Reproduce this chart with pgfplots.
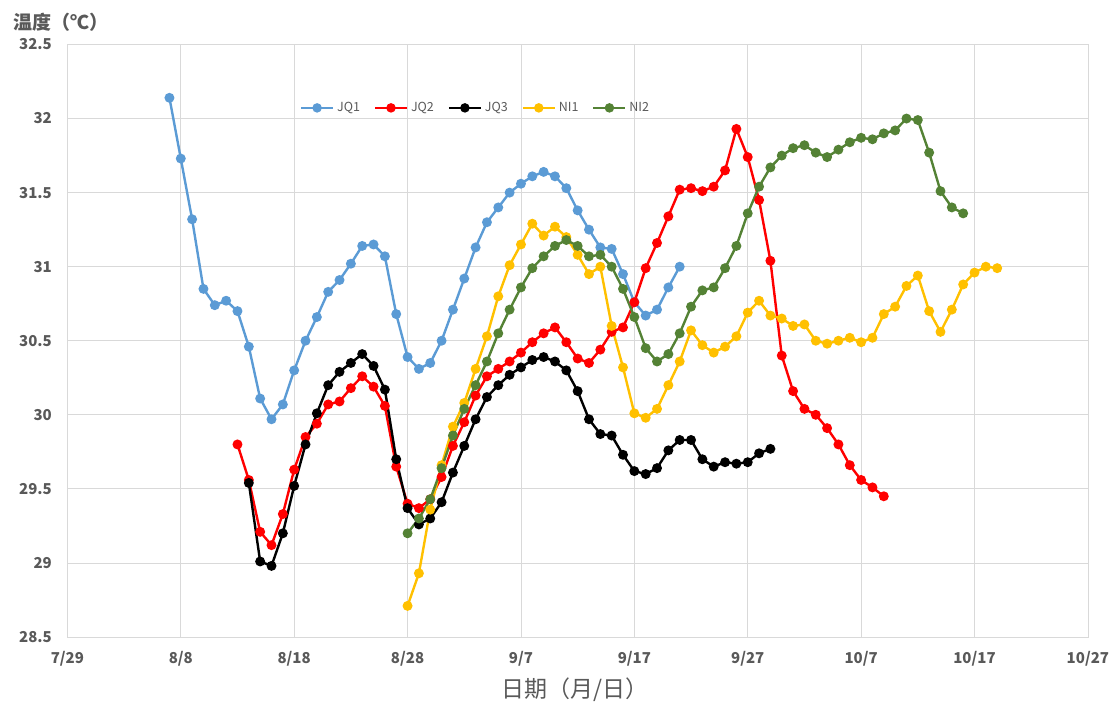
\documentclass[border=0pt]{standalone}
\usepackage{pgfplots}
\pgfplotsset{compat=1.18}
\usepackage{fontspec}
\setmainfont{Noto Sans CJK SC}
\newfontfamily\cjk{Noto Sans CJK SC}
\definecolor{cJQone}{HTML}{5B9BD5}
\definecolor{cJQtwo}{HTML}{FF0000}
\definecolor{cJQthree}{HTML}{000000}
\definecolor{cNIone}{HTML}{FFC000}
\definecolor{cNItwo}{HTML}{548235}
\definecolor{txtgray}{HTML}{595959}
\definecolor{gridgray}{HTML}{D9D9D9}
\begin{document}
\begin{tikzpicture}
\useasboundingbox (-67.4pt,-74pt) rectangle (1045.6pt,637pt);
\begin{axis}[
  scale only axis,
  width=1020.6pt, height=592.5pt,
  xmin=0, xmax=90, ymin=28.5, ymax=32.5,
  xtick={0,10,...,90},
  xticklabels={7/29,8/8,8/18,8/28,9/7,9/17,9/27,10/7,10/17,10/27},
  ytick={28.5,29,29.5,30,30.5,31,31.5,32,32.5},
  yticklabels={28.5,29,29.5,30,30.5,31,31.5,32,32.5},
  grid=major,
  major grid style={gridgray, line width=0.8pt},
  axis line style={gridgray, line width=0.8pt},
  tick style={draw=none},
  yticklabel shift=12pt,
  /pgf/number format/assume math mode=true,
  yticklabel style={font=\fontsize{15}{17}\selectfont\bfseries, text=txtgray},
  xticklabel style={font=\fontsize{15}{17}\selectfont\bfseries, text=txtgray, yshift=-11pt},
  legend style={at={(0.40,0.893)}, anchor=center, draw=none, fill=none,
    font=\fontsize{12.5}{14}\selectfont, text=txtgray,
    legend columns=-1, /tikz/every even column/.append style={column sep=12pt},
    /tikz/every odd column/.append style={column sep=1pt}},
  legend image code/.code={\draw[mark repeat=2,mark phase=2, line width=2pt] plot coordinates {(0pt,0pt) (16pt,0pt) (32pt,0pt)};},
  every axis plot/.append style={line width=2.4pt, mark=*, mark size=3.7pt, mark options={solid}},
]
\addplot[color=cJQone] coordinates {
(9,32.14)(10,31.73)(11,31.32)(12,30.85)(13,30.74)(14,30.77)(15,30.70)(16,30.46)(17,30.11)(18,29.97)
(19,30.07)(20,30.30)(21,30.50)(22,30.66)(23,30.83)(24,30.91)(25,31.02)(26,31.14)(27,31.15)(28,31.07)
(29,30.68)(30,30.39)(31,30.31)(32,30.35)(33,30.50)(34,30.71)(35,30.92)(36,31.13)(37,31.30)(38,31.40)
(39,31.50)(40,31.56)(41,31.61)(42,31.64)(43,31.61)(44,31.53)(45,31.38)(46,31.25)(47,31.13)(48,31.12)
(49,30.95)(50,30.76)(51,30.67)(52,30.71)(53,30.86)(54,31.00)};
\addlegendentry{JQ1}
\addplot[color=cJQtwo] coordinates {
(15,29.80)(16,29.56)(17,29.21)(18,29.12)(19,29.33)(20,29.63)(21,29.85)(22,29.94)(23,30.07)(24,30.09)
(25,30.18)(26,30.26)(27,30.19)(28,30.06)(29,29.65)(30,29.40)(31,29.37)(32,29.43)(33,29.58)(34,29.79)
(35,29.95)(36,30.13)(37,30.26)(38,30.31)(39,30.36)(40,30.42)(41,30.49)(42,30.55)(43,30.59)(44,30.49)
(45,30.38)(46,30.35)(47,30.44)(48,30.56)(49,30.59)(50,30.76)(51,30.99)(52,31.16)(53,31.34)(54,31.52)
(55,31.53)(56,31.51)(57,31.54)(58,31.65)(59,31.93)(60,31.74)(61,31.45)(62,31.04)(63,30.40)(64,30.16)
(65,30.04)(66,30.00)(67,29.91)(68,29.80)(69,29.66)(70,29.56)(71,29.51)(72,29.45)};
\addlegendentry{JQ2}
\addplot[color=cJQthree] coordinates {
(16,29.54)(17,29.01)(18,28.98)(19,29.20)(20,29.52)(21,29.80)(22,30.01)(23,30.20)(24,30.29)(25,30.35)
(26,30.41)(27,30.33)(28,30.17)(29,29.70)(30,29.37)(31,29.26)(32,29.30)(33,29.41)(34,29.61)(35,29.79)
(36,29.97)(37,30.12)(38,30.20)(39,30.27)(40,30.32)(41,30.37)(42,30.39)(43,30.36)(44,30.30)(45,30.16)
(46,29.97)(47,29.87)(48,29.86)(49,29.73)(50,29.62)(51,29.60)(52,29.64)(53,29.76)(54,29.83)(55,29.83)
(56,29.70)(57,29.65)(58,29.68)(59,29.67)(60,29.68)(61,29.74)(62,29.77)};
\addlegendentry{JQ3}
\addplot[color=cNIone] coordinates {
(30,28.71)(31,28.93)(32,29.36)(33,29.66)(34,29.92)(35,30.08)(36,30.31)(37,30.53)(38,30.80)(39,31.01)
(40,31.15)(41,31.29)(42,31.21)(43,31.27)(44,31.20)(45,31.08)(46,30.95)(47,31.00)(48,30.60)(49,30.32)
(50,30.01)(51,29.98)(52,30.04)(53,30.20)(54,30.36)(55,30.57)(56,30.47)(57,30.42)(58,30.46)(59,30.53)
(60,30.69)(61,30.77)(62,30.67)(63,30.65)(64,30.60)(65,30.61)(66,30.50)(67,30.48)(68,30.50)(69,30.52)
(70,30.49)(71,30.52)(72,30.68)(73,30.73)(74,30.87)(75,30.94)(76,30.70)(77,30.56)(78,30.71)(79,30.88)
(80,30.96)(81,31.00)(82,30.99)};
\addlegendentry{NI1}
\addplot[color=cNItwo] coordinates {
(30,29.20)(31,29.30)(32,29.43)(33,29.64)(34,29.86)(35,30.04)(36,30.20)(37,30.36)(38,30.55)(39,30.71)
(40,30.86)(41,30.99)(42,31.07)(43,31.14)(44,31.18)(45,31.14)(46,31.07)(47,31.08)(48,31.00)(49,30.85)
(50,30.66)(51,30.45)(52,30.36)(53,30.41)(54,30.55)(55,30.73)(56,30.84)(57,30.86)(58,30.99)(59,31.14)
(60,31.36)(61,31.54)(62,31.67)(63,31.75)(64,31.80)(65,31.82)(66,31.77)(67,31.74)(68,31.79)(69,31.84)
(70,31.87)(71,31.86)(72,31.90)(73,31.92)(74,32.00)(75,31.99)(76,31.77)(77,31.51)(78,31.40)(79,31.36)};
\addlegendentry{NI2}
\end{axis}
\node[anchor=west, text=txtgray, font=\fontsize{19}{22}\selectfont\bfseries] at (-57pt,615pt) {温度（℃）};
\node[text=txtgray, font=\fontsize{23}{26}\selectfont] at (508pt,-53pt) {日期（月/日）};
\end{tikzpicture}
\end{document}
